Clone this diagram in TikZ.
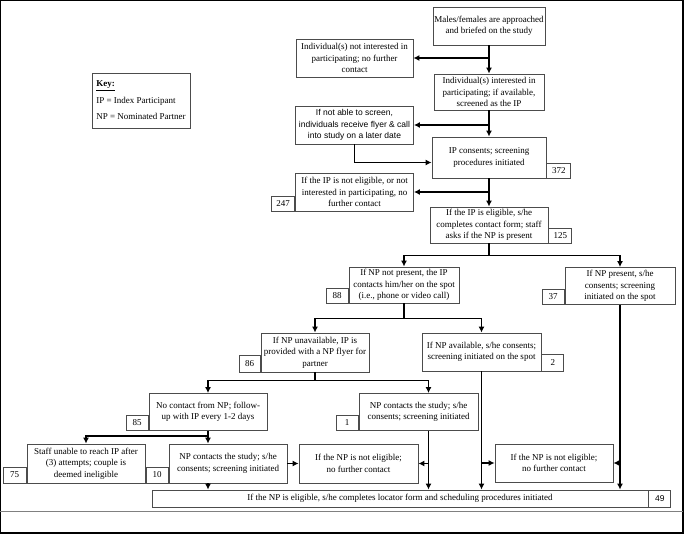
\documentclass[tikz,border=0pt]{standalone}
\usepackage{fontspec}
\setmainfont{Liberation Serif}
\newfontfamily\arialfont{Liberation Sans}
\usetikzlibrary{arrows.meta, positioning}

\begin{document}
\begin{tikzpicture}[
  x=1pt, y=-1pt,
  font=\fontsize{9}{11.5}\selectfont,
  stepbox/.style={draw=black!70, line width=0.8pt, align=center, inner sep=1pt, minimum height=37pt},
  count/.style={draw=black!70, line width=0.8pt, inner sep=1pt, minimum width=22pt, minimum height=15pt},
  link/.style={line width=1.5pt},
  edge/.style={-{Latex[length=6pt, width=6pt]}, line width=1.5pt}
]
\useasboundingbox (0,0) rectangle (685,534);
\draw[line width=1.2pt] (0.6,0.6) rectangle (683,533);
\draw[black!50, line width=0.8pt] (0,511) -- (683,511);

\node[draw=black!70, line width=0.8pt, align=left, inner sep=3pt, minimum width=98pt, minimum height=55pt,
  font=\fontsize{9}{11.5}\selectfont] (key) at (141,100.5)
  {\underline{\textbf{Key:}}\\[5pt]IP = Index Participant\\[5pt]NP = Nominated Partner};

\node[stepbox, minimum width=112pt, minimum height=38pt] (brief) at (489,26) {Males/females are approached\\and briefed on the study};
\node[stepbox, minimum width=117pt, minimum height=38pt] (nointerest) at (354.5,58) {Individual(s) not interested in\\participating; no further\\contact};
\node[stepbox, minimum width=110pt, minimum height=36pt] (interest) at (489,92) {Individual(s) interested in\\participating; if available,\\screened as the IP};
\node[stepbox, minimum width=118pt, minimum height=38pt, font=\arialfont\fontsize{8.5}{11.5}\selectfont] (flyer) at (354.5,125) {If not able to screen,\\individuals receive flyer \& call\\into study on a later date};
\node[stepbox, minimum width=114pt, minimum height=41pt] (consent) at (489,157.5) {IP consents; screening\\procedures initiated};
\node[count, minimum width=24pt, anchor=south west] (n372) at (consent.south east) {372};
\node[stepbox, minimum width=118pt, minimum height=38pt] (ipout) at (354.5,192) {If the IP is not eligible, or not\\interested in participating, no\\further contact};
\node[count, minimum width=23pt, anchor=south east] (n247) at (ipout.south west) {247};
\node[stepbox, minimum width=118pt, minimum height=36pt] (eligible) at (489,225) {If the IP is eligible, s/he\\completes contact form; staff\\asks if the NP is present};
\node[count, minimum width=23pt, anchor=south west] (n125) at (eligible.south east) {125};

\node[stepbox, minimum width=110pt, minimum height=36pt] (absent) at (404,285) {If NP not present, the IP\\contacts him/her on the spot\\(i.e., phone or video call)};
\node[count, anchor=south east] (n88) at (absent.south west) {88};
\node[stepbox, minimum width=110pt, minimum height=37pt] (present) at (620,286) {If NP present, s/he\\consents; screening\\initiated on the spot};
\node[count, anchor=south east] (n37) at (present.south west) {37};

\node[stepbox, minimum width=108pt, minimum height=39pt] (unavail) at (315,352.5) {If NP unavailable, IP is\\provided with a NP flyer for\\partner};
\node[count, minimum width=21pt, minimum height=17pt, anchor=south east] (n86) at (unavail.south west) {86};
\node[stepbox, minimum width=119pt, minimum height=38pt] (avail) at (481.5,352) {If NP available, s/he consents;\\screening initiated on the spot};
\node[count, minimum height=17pt, anchor=south west] (n2) at (avail.south east) {2};

\node[stepbox, minimum width=118pt, minimum height=37pt] (nocontact) at (208,412) {No contact from NP; follow-\\up with IP every 1-2 days};
\node[count, anchor=south east] (n85) at (nocontact.south west) {85};
\node[stepbox, minimum width=119pt, minimum height=37pt] (contact1) at (418.5,412) {NP contacts the study; s/he\\consents; screening initiated};
\node[count, anchor=south east] (n1) at (contact1.south west) {1};

\node[stepbox, minimum width=118pt, minimum height=39pt] (staff) at (86,463.5) {Staff unable to reach IP after\\(3) attempts; couple is\\deemed ineligible};
\node[count, minimum width=23pt, minimum height=16pt, anchor=south east] (n75) at (staff.south west) {75};
\node[stepbox, minimum width=118pt, minimum height=39pt] (contact10) at (228,463.5) {NP contacts the study; s/he\\consents; screening initiated};
\node[count, minimum height=16pt, anchor=south east] (n10) at (contact10.south west) {10};
\node[stepbox, minimum width=119pt, minimum height=39pt] (ineligA) at (358.5,463.5) {If the NP is not eligible;\\no further contact};
\node[stepbox, minimum width=118pt, minimum height=38pt] (ineligB) at (554,463) {If the NP is not eligible;\\no further contact};

\node[stepbox, minimum width=496pt, minimum height=17pt] (final) at (400,498.5) {If the NP is eligible, s/he completes locator form and scheduling procedures initiated};
\node[count, minimum height=17pt, anchor=south west, font=\arialfont\fontsize{8.5}{11.5}\selectfont] (n49) at (final.south east) {49};

\draw[edge] (brief) -- (interest);
\draw[edge] (brief.south |- nointerest.east) -- (nointerest.east);
\draw[edge] (interest) -- (consent);
\draw[edge] (interest.south |- flyer.east) -- (flyer.east);
\draw[edge] (flyer.south) |- ([yshift=-5pt]consent.west);
\draw[edge] (consent) -- (eligible);
\draw[edge] (consent.south |- ipout.east) -- (ipout.east);

\draw[link] (eligible.south) -- ++(0,12) coordinate (split1);
\draw[edge] (split1) -| (absent.north);
\draw[edge] (split1) -| (present.north);
\draw[link] (absent.south) -- ++(0,15) coordinate (split2);
\draw[edge] (split2) -| (unavail.north);
\draw[edge] (split2) -| (avail.north);
\draw[link] (unavail.south) -- ++(0,8) coordinate (split3);
\draw[edge] (split3) -| (nocontact.north);
\draw[edge] (split3) -| ([xshift=10pt]contact1.north);
\draw[link] (nocontact.south) -- ++(0,5) coordinate (split4);
\draw[edge] (split4) -| (staff.north);
\draw[edge] (split4) -- (split4 |- contact10.north);

\draw[edge] (contact10.east) -- (ineligA.west);
\draw[edge] (split4 |- contact10.south) -- (split4 |- final.north);
\coordinate (drop1) at ([xshift=10pt]contact1.south);
\draw[edge] (drop1) -- (drop1 |- final.north);
\draw[edge] (drop1 |- ineligA.east) -- (ineligA.east);
\draw[edge] (avail.south) -- (avail.south |- final.north);
\draw[edge] (avail.south |- ineligB.west) -- (ineligB.west);
\draw[edge] (present.south) -- (present.south |- final.north);
\draw[edge] (present.south |- ineligB.east) -- (ineligB.east);
\end{tikzpicture}
\end{document}
